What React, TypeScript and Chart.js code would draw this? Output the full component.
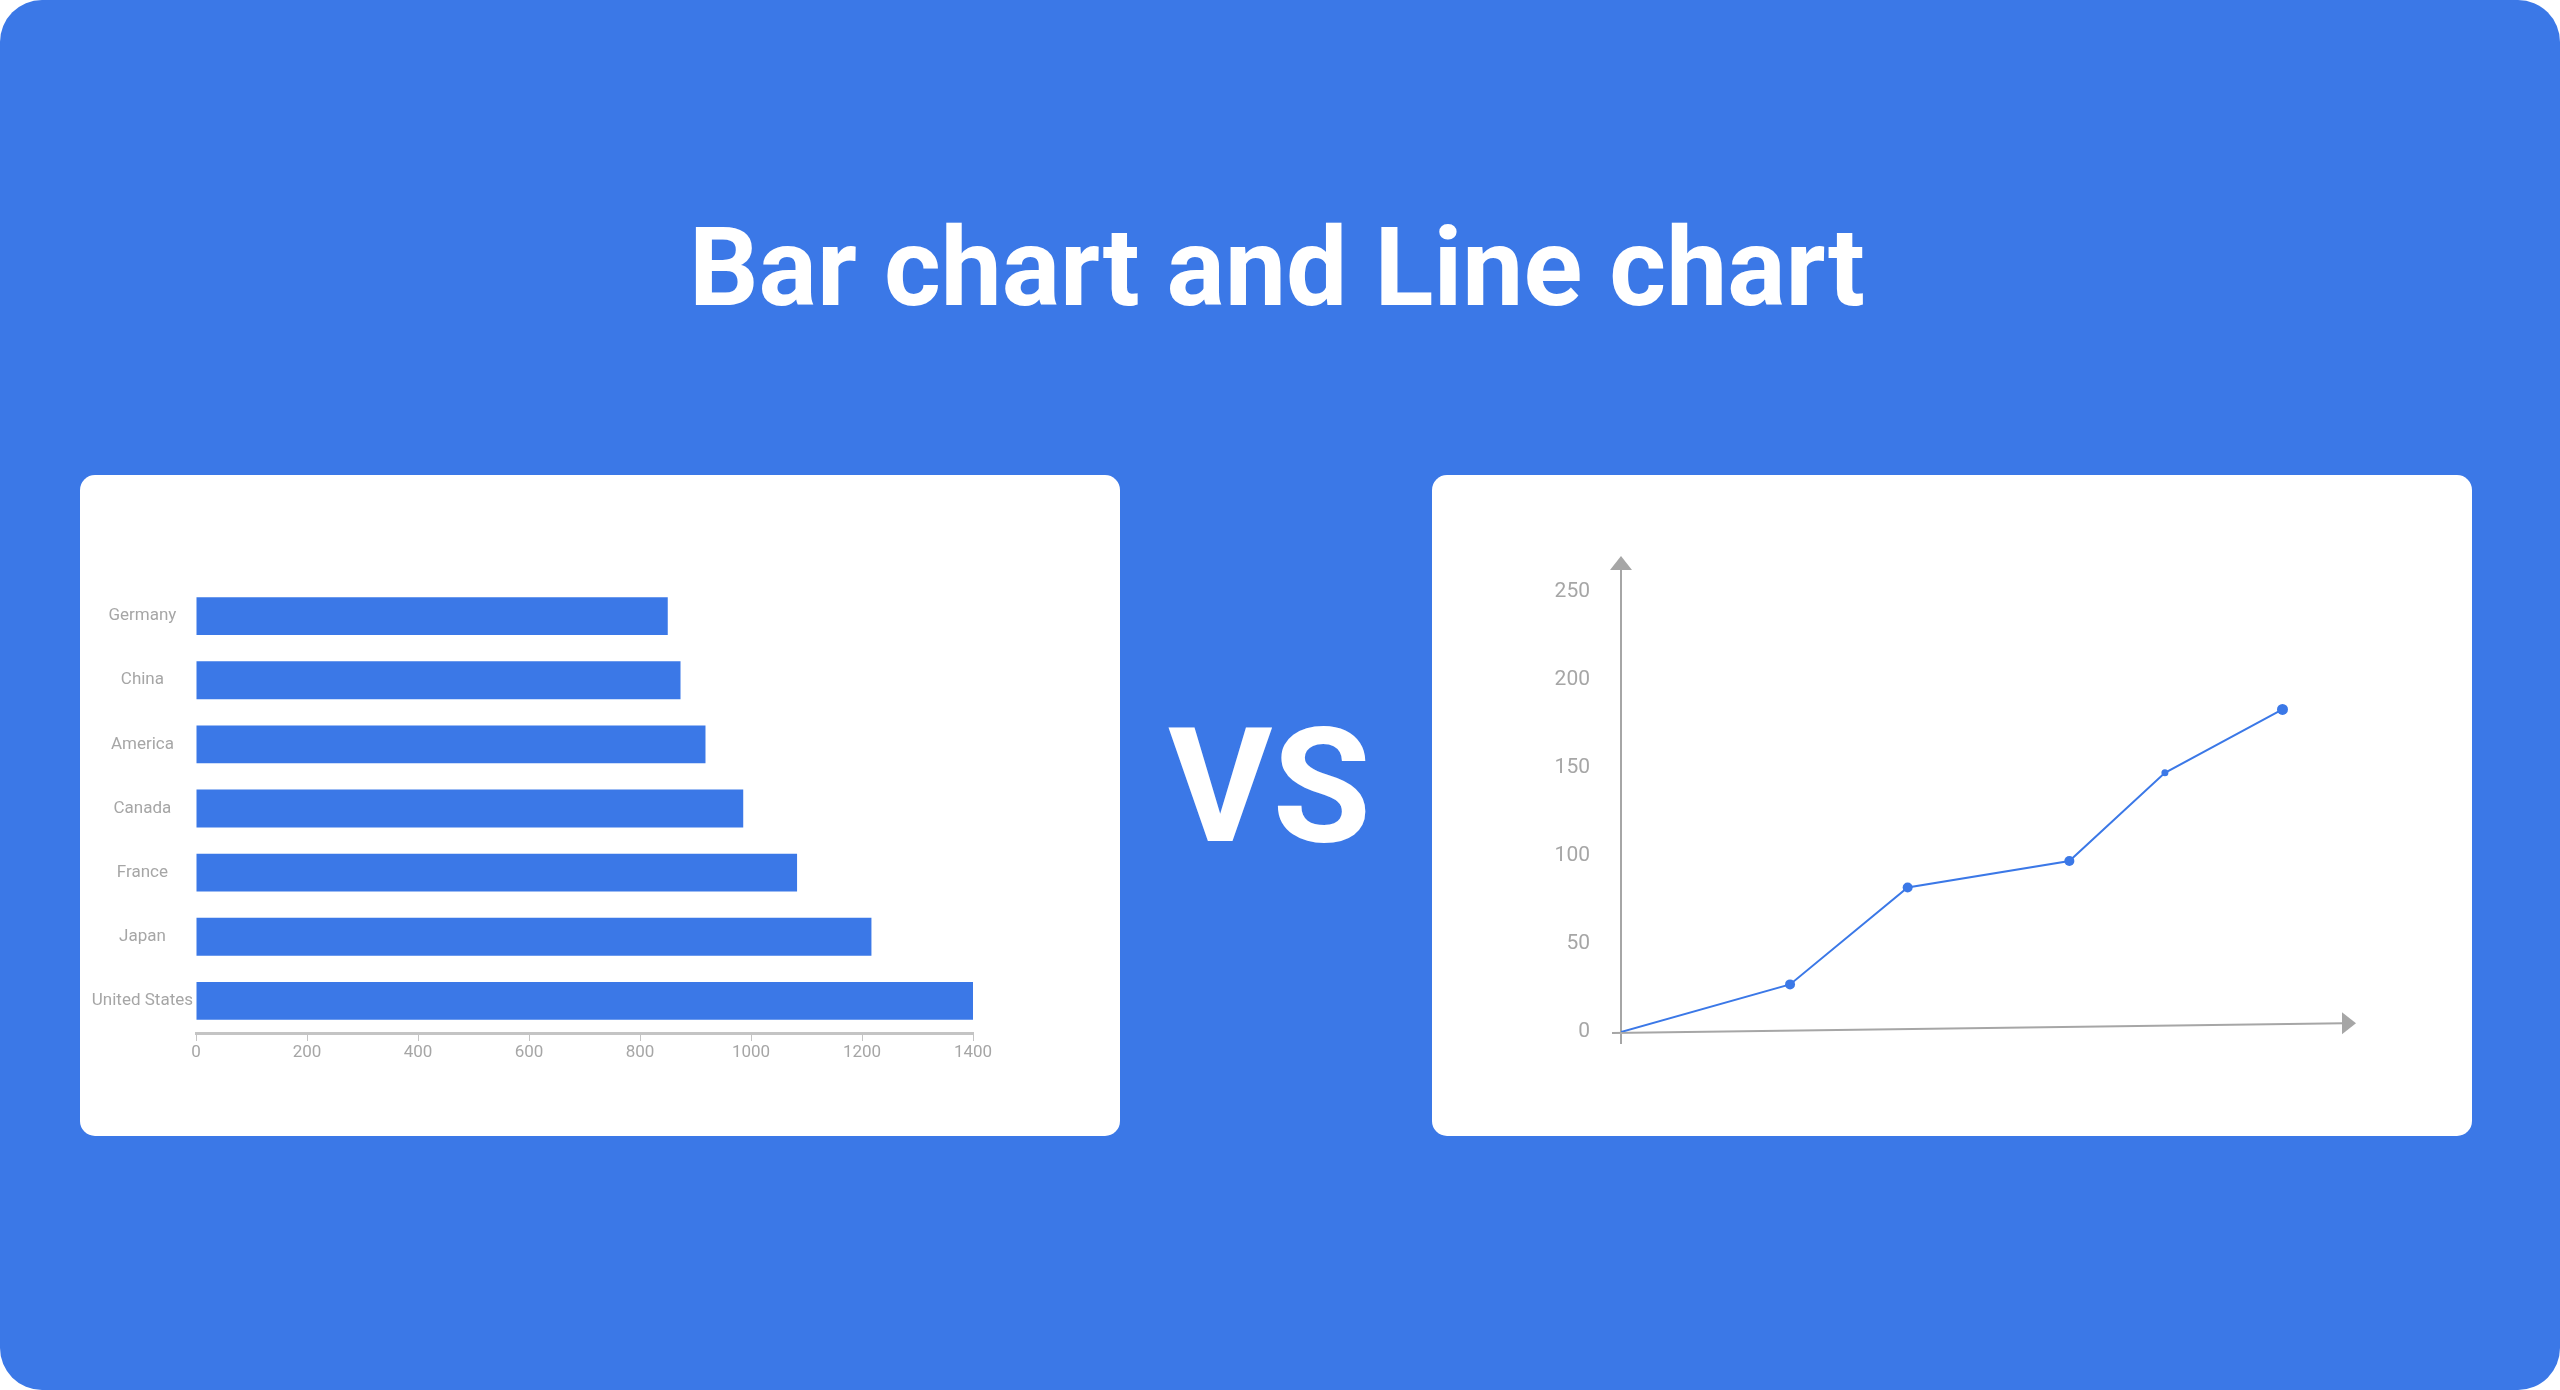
import { useEffect, useRef } from "react";
import { Chart, registerables } from "chart.js";

Chart.register(...registerables);

// bar chart data (top to bottom)
const countries = ["Germany", "China", "America", "Canada", "France", "Japan", "United States"];
const countryValues = [850, 873, 918, 986, 1083, 1217, 1400];
const barTicks = [0, 200, 400, 600, 800, 1000, 1200, 1400];

// line chart data
const lineX = [0, 23, 39, 61, 74, 90];
const lineY = [0, 27, 82, 97, 147, 183];
const lineTicks = [0, 50, 100, 150, 200, 250];

const BLUE = "#3b78e7";
const GREY = "#a6a6a6";
const FONT = "Roboto, 'Noto Sans', sans-serif";

const axisArrows = {
  id: "axisArrows",
  beforeDatasetsDraw(chart: any) {
    const { ctx, chartArea, scales } = chart;
    const x0 = chartArea.left;
    const y0 = scales.y.getPixelForValue(0);
    const yEnd = scales.y.getPixelForValue(5);
    const xEnd = chartArea.right;
    const top = chartArea.top;
    ctx.save();
    ctx.strokeStyle = GREY;
    ctx.fillStyle = GREY;
    ctx.lineWidth = 2;
    ctx.beginPath();
    ctx.moveTo(x0, y0 + 12);
    ctx.lineTo(x0, top + 12);
    ctx.moveTo(x0 - 9, y0 + 1);
    ctx.lineTo(xEnd - 12, yEnd);
    ctx.stroke();
    ctx.beginPath();
    ctx.moveTo(x0, top);
    ctx.lineTo(x0 - 11, top + 14);
    ctx.lineTo(x0 + 11, top + 14);
    ctx.closePath();
    ctx.fill();
    ctx.beginPath();
    ctx.moveTo(xEnd, yEnd);
    ctx.lineTo(xEnd - 14, yEnd - 11);
    ctx.lineTo(xEnd - 14, yEnd + 11);
    ctx.closePath();
    ctx.fill();
    ctx.restore();
  },
};

function BarPanel() {
  const canvasRef = useRef<HTMLCanvasElement | null>(null);
  useEffect(() => {
    if (!canvasRef.current) return;
    const chart = new Chart(canvasRef.current, {
      type: "bar",
      data: {
        labels: countries,
        datasets: [
          {
            data: countryValues,
            backgroundColor: BLUE,
            barPercentage: 0.59,
            categoryPercentage: 1,
          },
        ],
      },
      options: {
        indexAxis: "y",
        animation: false,
        responsive: true,
        maintainAspectRatio: false,
        layout: { padding: { left: 6, top: 109, right: 147, bottom: 63 } },
        plugins: { legend: { display: false }, tooltip: { enabled: false } },
        scales: {
          x: {
            min: 0,
            max: 1400,
            afterBuildTicks: (s: any) => {
              s.ticks = barTicks.map((v) => ({ value: v }));
            },
            afterFit: (s: any) => {
              s.height = 40;
            },
            grid: { drawOnChartArea: false, drawTicks: true, tickLength: 8, tickColor: "#c4c4c4", lineWidth: 1 },
            border: { display: true, color: "#c4c4c4", width: 3 },
            ticks: {
              color: GREY,
              font: { family: FONT, size: 17 },
              padding: 2,
              maxRotation: 0,
              callback: (v: any) => String(v),
            },
          },
          y: {
            afterFit: (s: any) => {
              s.width = 110;
            },
            grid: { display: false, drawTicks: false },
            border: { display: false },
            ticks: { color: GREY, font: { family: FONT, size: 17 }, padding: 3, crossAlign: "center" },
          },
        },
      },
    });
    return () => chart.destroy();
  }, []);
  return (
    <div style={{ position: "absolute", left: 80, top: 475, width: 1040, height: 661, background: "#fff", borderRadius: 15 }}>
      <canvas ref={canvasRef} />
    </div>
  );
}

function LinePanel() {
  const canvasRef = useRef<HTMLCanvasElement | null>(null);
  useEffect(() => {
    if (!canvasRef.current) return;
    const chart = new Chart(canvasRef.current, {
      type: "line",
      data: {
        datasets: [
          {
            data: lineX.map((x, i) => ({ x, y: lineY[i] })),
            borderColor: BLUE,
            backgroundColor: BLUE,
            borderWidth: 2,
            pointRadius: [0, 5, 5, 5, 3.5, 5.5],
            pointBorderWidth: 0,
            tension: 0,
          },
        ],
      },
      plugins: [axisArrows],
      options: {
        animation: false,
        responsive: true,
        maintainAspectRatio: false,
        layout: { padding: { left: 0, top: 81, right: 116, bottom: 104 } },
        plugins: { legend: { display: false }, tooltip: { enabled: false } },
        scales: {
          x: { type: "linear", min: 0, max: 100, display: false },
          y: {
            min: 0,
            max: 270,
            afterBuildTicks: (s: any) => {
              s.ticks = lineTicks.map((v) => ({ value: v }));
            },
            afterFit: (s: any) => {
              s.width = 189;
            },
            grid: { display: false, drawTicks: false },
            border: { display: false },
            ticks: { color: GREY, font: { family: FONT, size: 21 }, padding: 31 },
          },
        },
      },
    });
    return () => chart.destroy();
  }, []);
  return (
    <div style={{ position: "absolute", left: 1432, top: 475, width: 1040, height: 661, background: "#fff", borderRadius: 15 }}>
      <canvas ref={canvasRef} />
    </div>
  );
}

export default function App() {
  return (
    <div style={{ position: "fixed", left: 0, top: 0, width: 2560, height: 1390, background: "#fff", overflow: "hidden" }}>
      <div style={{ position: "absolute", inset: 0, background: BLUE, borderRadius: 42 }} />
      <div
        style={{
          position: "absolute",
          left: 0,
          width: 2554,
          top: 214,
          textAlign: "center",
          color: "#fff",
          fontFamily: FONT,
          fontWeight: 700,
          fontSize: 109,
          lineHeight: "109px",
        }}
      >
        Bar chart and Line chart
      </div>
      <div
        style={{
          position: "absolute",
          left: 1168,
          width: 200,
          top: 707,
          textAlign: "center",
          color: "#fff",
          fontFamily: FONT,
          fontWeight: 700,
          fontSize: 160,
          lineHeight: "160px",
        }}
      >
        VS
      </div>
      <BarPanel />
      <LinePanel />
    </div>
  );
}
